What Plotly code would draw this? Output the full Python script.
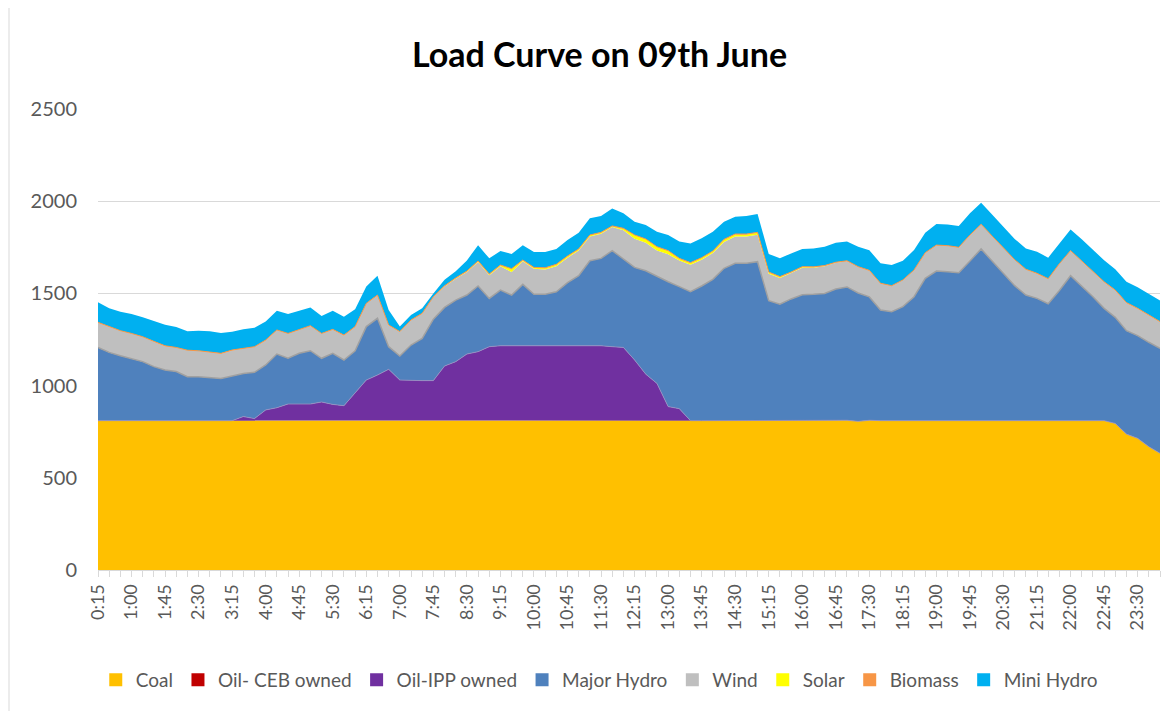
import plotly.graph_objects as go

# time categories 0:15 ... 24:00 (15-minute blocks)
times = ["0:15","0:30","0:45","1:00","1:15","1:30","1:45","2:00","2:15","2:30","2:45","3:00",
         "3:15","3:30","3:45","4:00","4:15","4:30","4:45","5:00","5:15","5:30","5:45","6:00",
         "6:15","6:30","6:45","7:00","7:15","7:30","7:45","8:00","8:15","8:30","8:45","9:00",
         "9:15","9:30","9:45","10:00","10:15","10:30","10:45","11:00","11:15","11:30","11:45","12:00",
         "12:15","12:30","12:45","13:00","13:15","13:30","13:45","14:00","14:15","14:30","14:45","15:00",
         "15:15","15:30","15:45","16:00","16:15","16:30","16:45","17:00","17:15","17:30","17:45","18:00",
         "18:15","18:30","18:45","19:00","19:15","19:30","19:45","20:00","20:15","20:30","20:45","21:00",
         "21:15","21:30","21:45","22:00","22:15","22:30","22:45","23:00","23:15","23:30","23:45","24:00"]

coal = [810,810,810,810,810,808,808,808,810,810,810,810,
        810,810,810,810,810,810,810,810,810,810,810,810,
        810,810,810,810,810,810,810,810,810,810,810,810,
        810,810,810,810,810,810,810,810,810,810,810,810,
        810,810,810,810,810,810,810,810,810,810,810,810,
        810,810,810,810,810,810,810,812,806,812,810,810,
        810,810,810,810,810,810,810,810,812,812,812,810,
        810,808,808,810,810,810,810,795,737,714,669,633]

oil_ceb = [0]*96

oil_ipp = [0,0,0,0,0,0,0,0,0,0,0,0,
           0,22,11,58,70,90,90,90,101,88,81,148,
           220,247,278,220,217,217,217,296,320,361,374,401,
           406,406,406,406,406,406,406,406,406,406,401,397,
           329,252,202,76,65,0,0,0,0,0,0,0,
           0,0,0,0,0,0,0,0,0,0,0,0,
           0,0,0,0,0,0,0,0,0,0,0,0,
           0,0,0,0,0,0,0,0,0,0,0,0]

major_hydro = [397,370,352,338,320,295,277,268,238,238,233,228,
               242,234,251,244,291,248,275,289,237,277,248,231,
               290,308,123,130,193,229,333,318,334,320,356,262,
               302,275,333,279,279,293,342,380,461,474,521,480,
               502,561,579,677,662,699,730,766,826,853,853,862,
               651,631,660,683,685,690,714,723,696,669,600,591,
               618,672,772,811,808,802,866,931,862,795,730,681,
               663,636,708,786,730,672,609,575,561,557,566,569]

wind = [134,138,134,133,133,135,129,129,142,139,139,135,
        139,134,137,133,129,133,125,134,133,128,133,129,
        124,124,116,131,134,134,120,114,116,125,130,125,
        129,125,125,139,134,138,136,137,132,134,128,155,
        156,152,142,149,142,147,143,143,143,146,146,146,
        146,142,140,146,144,147,142,139,141,142,143,139,
        143,143,137,139,139,136,139,132,134,137,139,138,
        134,134,143,134,135,134,142,146,150,146,146,143]

solar = [0,0,0,0,0,0,0,0,0,0,0,0,
         0,0,0,0,0,0,0,0,0,0,0,0,
         0,0,0,0,0,0,0,1,2,3,4,5,
         5,16,5,5,8,9,7,6,6,5,4,9,
         18,18,18,18,9,9,9,9,12,11,11,11,
         7,6,4,4,3,2,1,1,0,0,0,0,
         0,0,0,0,0,0,0,0,0,0,0,0,
         0,0,0,0,0,0,0,0,0,0,0,0]

biomass = [2,2,2,2,2,2,2,2,2,2,2,2,
           2,2,2,2,2,2,2,2,2,2,2,2,
           2,2,2,2,2,2,2,2,2,2,2,2,
           2,2,2,2,2,2,2,2,2,2,2,2,
           2,2,2,2,2,2,2,2,2,2,2,2,
           2,2,2,2,2,2,2,2,2,2,2,2,
           2,2,2,2,2,2,2,2,2,2,2,2,
           2,2,2,2,2,2,2,2,2,2,2,2]

mini_hydro = [109,100,103,105,105,110,114,111,103,108,111,110,
              99,103,103,100,104,105,102,99,94,101,100,94,
              91,105,81,27,27,27,18,33,36,58,85,85,
              76,80,80,83,85,83,87,88,90,89,95,81,
              72,76,82,85,91,104,105,105,96,94,98,100,
              98,99,101,96,100,102,106,105,108,109,108,112,
              104,108,108,114,114,116,117,117,117,112,112,113,
              117,114,112,115,116,117,117,113,113,114,114,114]

series_names = ["Coal", "Oil- CEB owned", "Oil-IPP owned", "Major Hydro",
                "Wind", "Solar", "Biomass", "Mini Hydro"]
series_values = [coal, oil_ceb, oil_ipp, major_hydro, wind, solar, biomass, mini_hydro]
colors = ["#FFC000", "#C00000", "#7030A0", "#4F81BD",
          "#BFBFBF", "#FFFF00", "#F79646", "#00B0F0"]
line_styles = [dict(width=0), dict(width=0), dict(width=0.8, color="#9b8fc0"),
               dict(width=1.5, color="#A0A0A0"), dict(width=0), dict(width=0),
               dict(width=1, color="#F79646"), dict(width=0)]

xpos = list(range(len(times)))

fig = go.Figure()
for name, vals, col, ln in zip(series_names, series_values, colors, line_styles):
    fig.add_trace(go.Scatter(
        x=xpos, y=vals, name=name, mode="lines", stackgroup="one",
        fillcolor=col, line=ln, showlegend=False,
    ))
# legend entries with square swatches
for name, col in zip(series_names, colors):
    fig.add_trace(go.Scatter(
        x=[None], y=[None], name=name, mode="markers",
        marker=dict(symbol="square", size=13, color=col, line=dict(width=0)),
        showlegend=True,
    ))

tick_idx = xpos[::3]
fig.update_layout(
    width=1176, height=711,
    paper_bgcolor="white", plot_bgcolor="white",
    margin=dict(l=90, r=24, t=101, b=149),
    font=dict(family="Lato, 'Open Sans', sans-serif", color="#595959"),
    title=dict(text="<b>Load Curve on 09th June</b>", x=0.503, xanchor="center",
               y=0.934, yanchor="middle", xref="container", yref="container",
               font=dict(size=34, color="#000000", family="Lato, sans-serif")),
    xaxis=dict(range=[0, len(times) - 1], tickmode="array", tickvals=tick_idx,
               ticktext=[times[i] for i in tick_idx], tickangle=-90,
               tickfont=dict(size=18, color="#595959"),
               showgrid=False, showline=True, linecolor="#D9D9D9", linewidth=1,
               ticks="outside", ticklen=6, tickcolor="#D9D9D9",
               minor=dict(dtick=1, ticks="outside", ticklen=6, tickcolor="#D9D9D9"),
               zeroline=False),
    yaxis=dict(range=[0, 2500], dtick=500, showgrid=True, gridcolor="#D9D9D9",
               gridwidth=1, zeroline=False, showline=False,
               tickfont=dict(size=20, color="#595959"), ticks="", ticklabelstandoff=20),
    legend=dict(orientation="h", x=0.472, xanchor="center", y=-0.2386, yanchor="middle",
                font=dict(size=19, color="#595959"), traceorder="normal",
                itemwidth=30, tracegroupgap=0),
    showlegend=True,
)
fig.add_shape(type="line", xref="paper", yref="paper",
              x0=-89/1062, x1=-89/1062, y0=-149/461, y1=101/461 + 1,
              line=dict(color="#D9D9D9", width=1))

fig.write_html("out.html")
